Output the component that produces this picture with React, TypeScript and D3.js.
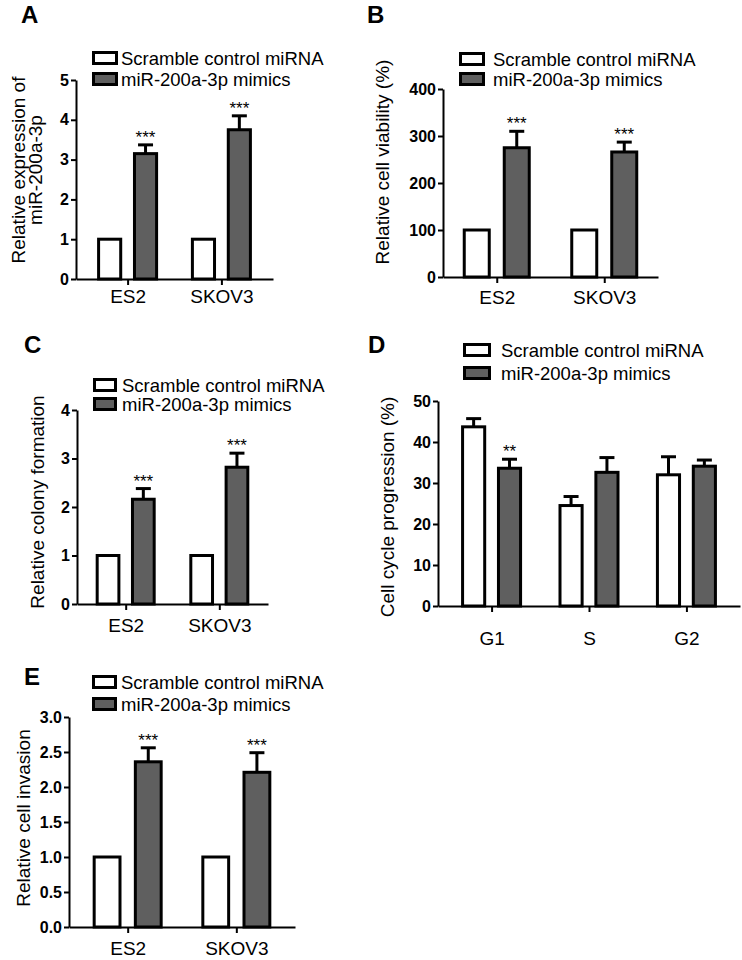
import React, { useEffect, useRef } from "react";
import * as d3 from "d3";

const cellLines = ["ES2", "SKOV3"];
const phases = ["G1", "S", "G2"];
const seriesNames = ["Scramble control miRNA", "miR-200a-3p mimics"];

// A - relative expression
const expressionControl = [1, 1];
const expressionControlErr = [0, 0];
const expressionMimic = [3.15, 3.75];
const expressionMimicErr = [0.22, 0.35];
const expressionStars = ["***", "***"];
const expressionTicks = [0, 1, 2, 3, 4, 5];

// B - cell viability
const viabilityControl = [100, 100];
const viabilityControlErr = [0, 0];
const viabilityMimic = [275, 266];
const viabilityMimicErr = [35, 21];
const viabilityStars = ["***", "***"];
const viabilityTicks = [0, 100, 200, 300, 400];

// C - colony formation
const colonyControl = [1, 1];
const colonyControlErr = [0, 0];
const colonyMimic = [2.16, 2.82];
const colonyMimicErr = [0.22, 0.29];
const colonyStars = ["***", "***"];
const colonyTicks = [0, 1, 2, 3, 4];

// D - cell cycle
const cycleControl = [43.7, 24.5, 32.0];
const cycleControlErr = [2.0, 2.2, 4.4];
const cycleMimic = [33.6, 32.6, 34.1];
const cycleMimicErr = [2.2, 3.6, 1.5];
const cycleStars = ["**", "", ""];
const cycleTicks = [0, 10, 20, 30, 40, 50];

// E - invasion
const invasionControl = [1, 1];
const invasionControlErr = [0, 0];
const invasionMimic = [2.36, 2.21];
const invasionMimicErr = [0.2, 0.28];
const invasionStars = ["***", "***"];
const invasionTicks = [0, 0.5, 1.0, 1.5, 2.0, 2.5, 3.0];

const FONT = "Arial, 'Liberation Sans', Helvetica, sans-serif";
const GRAY = "#5f5f5f";

const panels = [
  {
    letter: "A", cats: cellLines, control: expressionControl, controlErr: expressionControlErr,
    mimic: expressionMimic, mimicErr: expressionMimicErr, stars: expressionStars,
    ticks: expressionTicks, fmt: d3.format("d"), title: ["Relative expression of", "miR-200a-3p"],
    letterX: 21, letterY: 23, left: 76, right: 273, top: 80, bottom: 279, pad: 0.55, groupW: 61,
    titleX: 42, titleY: 170, xPad: 5, legX: 92, legY: 65, legGap: 21, legW: 26, legTextGap: 3,
  },
  {
    letter: "B", cats: cellLines, control: viabilityControl, controlErr: viabilityControlErr,
    mimic: viabilityMimic, mimicErr: viabilityMimicErr, stars: viabilityStars,
    ticks: viabilityTicks, fmt: d3.format("d"), title: ["Relative cell viability (%)"],
    letterX: 367, letterY: 23, left: 443, right: 658, top: 89, bottom: 277, pad: 0.5, groupW: 68,
    titleX: 389, titleY: 162, xPad: 8, legX: 459, legY: 66, legGap: 20, legW: 26, legTextGap: 8,
  },
  {
    letter: "C", cats: cellLines, control: colonyControl, controlErr: colonyControlErr,
    mimic: colonyMimic, mimicErr: colonyMimicErr, stars: colonyStars,
    ticks: colonyTicks, fmt: d3.format("d"), title: ["Relative colony formation"],
    letterX: 24, letterY: 353, left: 77, right: 268, top: 410, bottom: 604, pad: 0.52, groupW: 60,
    titleX: 44, titleY: 502, xPad: 9, legX: 93, legY: 392, legGap: 19, legW: 24, legTextGap: 5,
  },
  {
    letter: "D", cats: phases, control: cycleControl, controlErr: cycleControlErr,
    mimic: cycleMimic, mimicErr: cycleMimicErr, stars: cycleStars,
    ticks: cycleTicks, fmt: d3.format("d"), title: ["Cell cycle progression (%)"],
    letterX: 368, letterY: 353, left: 438, right: 740, top: 401, bottom: 606, pad: 0.55, groupW: 61,
    titleX: 394, titleY: 507, xPad: 20, legX: 463, legY: 357, legGap: 23, legW: 28, legTextGap: 10,
  },
  {
    letter: "E", cats: cellLines, control: invasionControl, controlErr: invasionControlErr,
    mimic: invasionMimic, mimicErr: invasionMimicErr, stars: invasionStars,
    ticks: invasionTicks, fmt: d3.format(".1f"), title: ["Relative cell invasion"],
    letterX: 24, letterY: 685, left: 69, right: 295, top: 717, bottom: 927, pad: 0.54, groupW: 70,
    titleX: 30, titleY: 818, xPad: 9, legX: 92, legY: 689, legGap: 22, legW: 25, legTextGap: 4,
  },
];

const drawPanel = (svg, p) => {
  const g = svg.append("g");
  const y = d3.scaleLinear().domain([0, d3.max(p.ticks)]).range([p.bottom, p.top]);
  const x = d3.scalePoint().domain(p.cats).range([p.left, p.right]).padding(p.pad);
  const sub = d3.scaleBand().domain(seriesNames).range([-p.groupW / 2, p.groupW / 2]).paddingInner(0.3);
  const bw = sub.bandwidth();

  // panel letter
  g.append("text")
    .attr("x", p.letterX).attr("y", p.letterY)
    .attr("font-family", FONT).attr("font-size", 24).attr("font-weight", "bold")
    .text(p.letter);

  // bars + error bars
  const series = [
    { name: seriesNames[0], vals: p.control, errs: p.controlErr, fill: "#fff", stars: null },
    { name: seriesNames[1], vals: p.mimic, errs: p.mimicErr, fill: GRAY, stars: p.stars },
  ];
  series.forEach((s) => {
    p.cats.forEach((c, i) => {
      const v = s.vals[i];
      const e = s.errs[i];
      const x0 = x(c) + sub(s.name);
      const cx = x0 + bw / 2;
      if (e > 0) {
        g.append("line")
          .attr("x1", cx).attr("x2", cx).attr("y1", y(v)).attr("y2", y(v + e))
          .attr("stroke", "#000").attr("stroke-width", 3);
        g.append("line")
          .attr("x1", cx - 7.5).attr("x2", cx + 7.5).attr("y1", y(v + e)).attr("y2", y(v + e))
          .attr("stroke", "#000").attr("stroke-width", 3);
      }
      g.append("rect")
        .attr("x", x0 + 1.5).attr("y", y(v))
        .attr("width", bw - 3).attr("height", y(0) - y(v))
        .attr("fill", s.fill).attr("stroke", "#000").attr("stroke-width", 3);
      if (s.stars && s.stars[i]) {
        g.append("text")
          .attr("x", cx).attr("y", y(v + e) - 2)
          .attr("text-anchor", "middle")
          .attr("font-family", FONT).attr("font-size", 17)
          .text(s.stars[i]);
      }
    });
  });

  // y axis
  const ya = g.append("g")
    .attr("transform", `translate(${p.left},0)`)
    .call(d3.axisLeft(y).tickValues(p.ticks).tickFormat(p.fmt).tickSize(5).tickSizeOuter(0).tickPadding(2));
  ya.selectAll("path,line").attr("stroke", "#000").attr("stroke-width", 2);
  ya.selectAll("text")
    .attr("font-family", FONT).attr("font-size", 16).attr("font-weight", "bold").attr("fill", "#000");

  // x axis
  const xa = g.append("g")
    .attr("transform", `translate(0,${p.bottom})`)
    .call(d3.axisBottom(x).tickSize(6).tickSizeOuter(0).tickPadding(p.xPad));
  xa.selectAll("path,line").attr("stroke", "#000").attr("stroke-width", 2);
  xa.selectAll("text")
    .attr("font-family", FONT).attr("font-size", 19).attr("fill", "#000");

  // y title
  const n = p.title.length;
  p.title.forEach((t, j) => {
    g.append("text")
      .attr("transform", `translate(${p.titleX - (n - 1 - j) * 17},${p.titleY}) rotate(-90)`)
      .attr("text-anchor", "middle")
      .attr("font-family", FONT).attr("font-size", 19)
      .text(t);
  });

  // legend
  series.forEach((s, k) => {
    const by = p.legY + k * p.legGap;
    g.append("rect")
      .attr("x", p.legX + 1.5).attr("y", by - 12.5)
      .attr("width", p.legW - 3).attr("height", 11)
      .attr("fill", s.fill).attr("stroke", "#000").attr("stroke-width", 3);
    g.append("text")
      .attr("x", p.legX + p.legW + p.legTextGap).attr("y", by)
      .attr("font-family", FONT).attr("font-size", 18.5)
      .text(s.name);
  });
};

const App = () => {
  const ref = useRef(null);

  useEffect(() => {
    const svg = d3.select(ref.current);
    svg.selectAll("*").remove();
    panels.forEach((p) => drawPanel(svg, p));
  }, []);

  return (
    <svg
      ref={ref}
      width={742}
      height={960}
      style={{ position: "absolute", left: 0, top: 0, background: "#fff" }}
    />
  );
};

export default App;
